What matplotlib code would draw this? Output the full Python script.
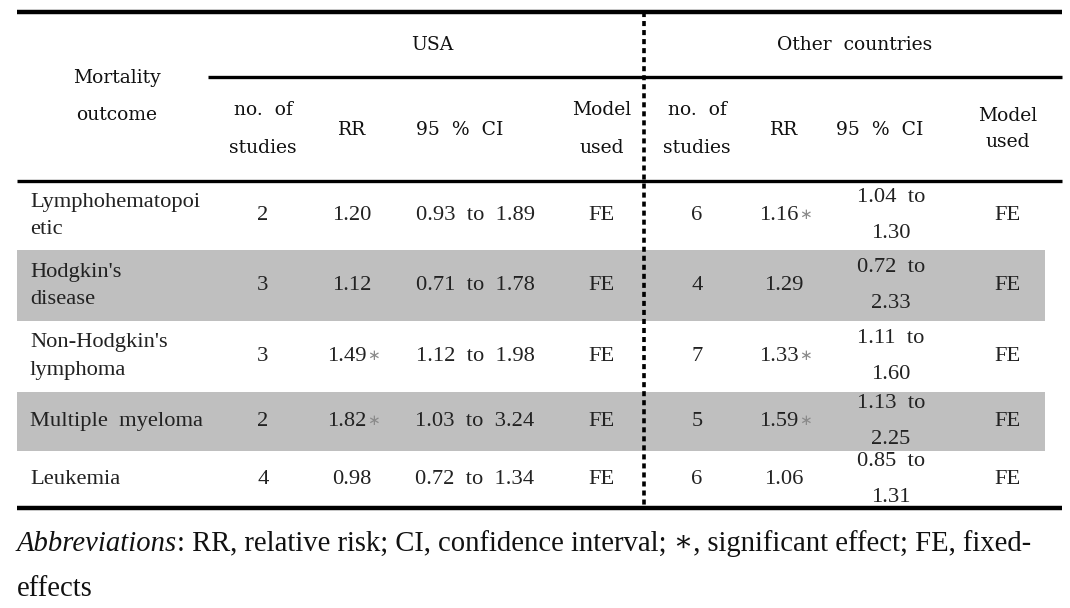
import matplotlib
matplotlib.use("Agg")
import matplotlib.pyplot as plt

# table data
outcomes = ["Lymphohematopoi\netic", "Hodgkin's\ndisease", "Non-Hodgkin's\nlymphoma",
            "Multiple  myeloma", "Leukemia"]
usa_n = [2, 3, 3, 2, 4]
usa_rr = [1.20, 1.12, 1.49, 1.82, 0.98]
usa_sig = [False, False, True, True, False]
usa_lo = [0.93, 0.71, 1.12, 1.03, 0.72]
usa_hi = [1.89, 1.78, 1.98, 3.24, 1.34]
usa_model = ["FE", "FE", "FE", "FE", "FE"]
oth_n = [6, 4, 7, 5, 6]
oth_rr = [1.16, 1.29, 1.33, 1.59, 1.06]
oth_sig = [True, False, True, True, False]
oth_lo = [1.04, 0.72, 1.11, 1.13, 0.85]
oth_hi = [1.30, 2.33, 1.60, 2.25, 1.31]
oth_model = ["FE", "FE", "FE", "FE", "FE"]

groups = ["USA", "Other  countries"]
sub_heads = ["no.  of\nstudies", "RR", "95  %  CI", "Model\nused"]

# layout in pixels
W, H = 1070, 608
row_edges = [181, 250, 321, 392, 451, 508]
shaded = [False, True, False, True, False]
usa_x = [263, 352, 475, 602]
oth_x = [697, 784, 891, 1008]
HEAD = dict(family=["DejaVu Serif"], fontsize=13.5, color="#111111")
BODY = dict(family=["Liberation Serif", "DejaVu Serif"], fontsize=16.2, color="#222222")

fig = plt.figure(figsize=(W / 100, H / 100), dpi=100)
ax = fig.add_axes([0, 0, 1, 1])
ax.set_xlim(0, W)
ax.set_ylim(H, 0)
ax.axis("off")

# shaded rows
for i, s in enumerate(shaded):
    if s:
        ax.fill_between([17, 1045], row_edges[i], row_edges[i + 1], color="#bfbfbf", lw=0)

# rules
ax.plot([17, 1062], [12, 12], color="black", lw=3.2, solid_capstyle="butt")
ax.plot([208, 1062], [77, 77], color="black", lw=2.4, solid_capstyle="butt")
ax.plot([17, 1062], [181, 181], color="black", lw=2.4, solid_capstyle="butt")
ax.plot([17, 1062], [508, 508], color="black", lw=3.2, solid_capstyle="butt")
ax.plot([644, 644], [12, 508], color="black", lw=2.6, linestyle=(0, (1.4, 1.1)),
        dash_capstyle="butt")

# header
ax.text(117, 78, "Mortality", ha="center", va="center", **HEAD)
ax.text(117, 115, "outcome", ha="center", va="center", **HEAD)
ax.text(432, 45, groups[0], ha="center", va="center", **HEAD)
ax.text(855, 45, groups[1], ha="center", va="center", **HEAD)
head_x = [[263, 352, 460, 602], [697, 784, 880, 1008]]
for g, xs in enumerate(head_x):
    for j, lab in enumerate(sub_heads):
        if "\n" in lab:
            a, b = lab.split("\n")
            gap = 19 if not (g == 1 and j == 3) else 13
            ax.text(xs[j], 129 - gap, a, ha="center", va="center", **HEAD)
            ax.text(xs[j], 129 + gap, b, ha="center", va="center", **HEAD)
        else:
            ax.text(xs[j], 130, lab, ha="center", va="center", **HEAD)


def rr_text(x, y, v, sig):
    if sig:
        ax.text(x - 5, y, f"{v:.2f}", ha="center", va="center", **BODY)
        ax.text(x + 15, y - 1, "\u2217", ha="left", va="center",
                family=["DejaVu Sans"], fontsize=11, color="#8a8a8a")
    else:
        ax.text(x, y, f"{v:.2f}", ha="center", va="center", **BODY)


# body
for i in range(len(outcomes)):
    yc = (row_edges[i] + row_edges[i + 1]) / 2
    lines = outcomes[i].split("\n")
    if len(lines) == 2:
        ax.text(30, yc - 13.5, lines[0], ha="left", va="center", **BODY)
        ax.text(30, yc + 13.5, lines[1], ha="left", va="center", **BODY)
    else:
        ax.text(30, yc, lines[0], ha="left", va="center", **BODY)

    ax.text(usa_x[0], yc, str(usa_n[i]), ha="center", va="center", **BODY)
    rr_text(usa_x[1], yc, usa_rr[i], usa_sig[i])
    ax.text(usa_x[2], yc, f"{usa_lo[i]:.2f}  to  {usa_hi[i]:.2f}", ha="center", va="center", **BODY)
    ax.text(usa_x[3], yc, usa_model[i], ha="center", va="center", **BODY)

    ax.text(oth_x[0], yc, str(oth_n[i]), ha="center", va="center", **BODY)
    rr_text(oth_x[1], yc, oth_rr[i], oth_sig[i])
    ax.text(oth_x[2], yc - 18, f"{oth_lo[i]:.2f}  to", ha="center", va="center", **BODY)
    ax.text(oth_x[2], yc + 18, f"{oth_hi[i]:.2f}", ha="center", va="center", **BODY)
    ax.text(oth_x[3], yc, oth_model[i], ha="center", va="center", **BODY)

# footnote
FOOT = dict(family=["Liberation Serif", "DejaVu Serif"], fontsize=20.6, color="#111111")
t = ax.text(17, 551, "Abbreviations", ha="left", va="baseline", style="italic", **FOOT)
fig.canvas.draw()
bb = t.get_window_extent(fig.canvas.get_renderer())
x_end = ax.transData.inverted().transform((bb.x1, bb.y0))[0]
ax.text(x_end, 551, ": RR, relative risk; CI, confidence interval; \u2217, significant effect; FE, fixed-",
        ha="left", va="baseline", **FOOT)
ax.text(17, 596, "effects", ha="left", va="baseline", **FOOT)

fig.savefig("out.png", dpi=100)
